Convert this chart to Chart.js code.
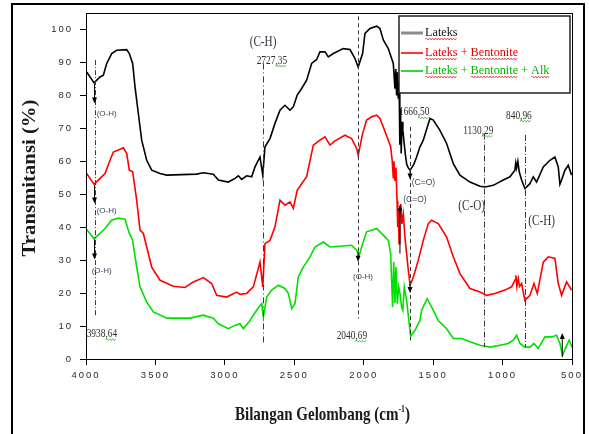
<!DOCTYPE html>
<html>
<head>
<meta charset="utf-8">
<script src="https://cdn.jsdelivr.net/npm/chart.js@4.4.0/dist/chart.umd.min.js"></script>
<style>
  html, body { margin: 0; background: #fff; }
  #wrap { position: relative; width: 589px; height: 434px; }
</style>
</head>
<body>
<div id="wrap"><canvas id="ftir" width="589" height="434"></canvas></div>
<script>
// FTIR spectra, wavenumber (cm-1) against transmittance (%)
const seriesNames = ['Lateks', 'Lateks + Bentonite', 'Lateks + Bentonite + Alk'];

const lateksX = [3995, 3942, 3899, 3875, 3851, 3815, 3779, 3707, 3688, 3664, 3647, 3623, 3599, 3563, 3527, 3467, 3419, 3203, 3155, 3083, 3047, 2975, 2927, 2903, 2879, 2843, 2807, 2783, 2747, 2727, 2711, 2675, 2639, 2603, 2567, 2531, 2507, 2479, 2447, 2411, 2375, 2339, 2315, 2279, 2255, 2219, 2147, 2099, 2063, 2040, 2008, 1991, 1955, 1907, 1883, 1859, 1823, 1787, 1775, 1769, 1763, 1757, 1751, 1745, 1740, 1735, 1730, 1724, 1718, 1710, 1700, 1690, 1679, 1666, 1640, 1619, 1595, 1571, 1523, 1499, 1451, 1403, 1355, 1307, 1235, 1163, 1127, 1067, 995, 947, 911, 905, 899, 890, 880, 863, 839, 803, 779, 755, 707, 659, 623, 599, 587, 575, 551, 527, 503];
const lateksY = [87.1, 83.8, 85.6, 86.1, 89.7, 92.7, 93.7, 93.9, 92.7, 89.7, 82.6, 74.5, 66.4, 60.3, 57.3, 56.3, 55.8, 56.1, 56.5, 56.1, 54.3, 53.7, 54.8, 55.6, 54.5, 55.6, 55.3, 58.3, 61.3, 55.8, 64.4, 66.9, 71.5, 75.5, 77.0, 75.5, 76.5, 80.1, 82.1, 84.6, 89.7, 90.9, 93.2, 93.2, 91.7, 92.7, 94.2, 93.9, 91.2, 88.6, 92.7, 98.8, 100.3, 101.0, 100.3, 96.8, 94.2, 89.7, 82, 88, 80, 87, 79, 84, 65, 76, 62.4, 72, 69.4, 66, 62, 59, 58, 57.3, 59, 61.3, 64.4, 66.4, 73.0, 72.5, 69.4, 65.4, 59.3, 55.8, 53.7, 52.4, 52.2, 52.7, 54.3, 55.3, 57.3, 59.5, 58, 60, 56.8, 54.3, 51.7, 53.2, 55.3, 53.7, 58.3, 60.3, 61.3, 58.3, 53, 54.3, 57.3, 58.8, 55.8];

const bentoniteX = [3995, 3942, 3899, 3863, 3827, 3803, 3767, 3731, 3707, 3688, 3664, 3635, 3611, 3587, 3563, 3527, 3467, 3371, 3287, 3227, 3155, 3095, 3059, 2987, 2915, 2891, 2843, 2795, 2747, 2727, 2711, 2675, 2639, 2603, 2567, 2531, 2507, 2479, 2447, 2411, 2363, 2315, 2279, 2243, 2207, 2135, 2087, 2051, 2040, 2008, 1979, 1943, 1907, 1883, 1859, 1823, 1806, 1795, 1787, 1782, 1775, 1768, 1760, 1755, 1750, 1745, 1740, 1733, 1725, 1715, 1703, 1691, 1679, 1666, 1650, 1631, 1607, 1571, 1535, 1511, 1463, 1403, 1355, 1307, 1235, 1163, 1115, 1055, 983, 935, 910, 904, 897, 887, 878, 863, 839, 803, 774, 750, 707, 671, 623, 599, 575, 539, 503];
const bentoniteY = [56.3, 53.0, 54.8, 56.3, 60.3, 62.8, 63.4, 64.1, 62.4, 57.3, 56.8, 48.2, 39.1, 38.1, 34.0, 27.9, 23.9, 22.1, 21.7, 23.4, 24.7, 22.9, 19.3, 18.8, 20.3, 19.6, 19.9, 21.9, 29.4, 21.9, 35.0, 36.0, 40.1, 48.2, 46.7, 47.7, 45.7, 51.2, 53.2, 55.3, 64.9, 66.4, 67.4, 64.9, 66.2, 67.9, 66.9, 63.9, 61.8, 68.4, 72.5, 73.5, 74.0, 73.0, 70.4, 66.4, 64.4, 60.3, 55, 60, 54, 58, 48, 40, 45, 35, 44, 47, 41, 44, 37, 32, 27, 22.5, 24, 26.5, 30.0, 36.0, 41.1, 42.1, 41.1, 37.0, 31.0, 25.9, 21.4, 20.3, 19.3, 19.9, 20.9, 21.9, 24, 25.4, 22, 24.4, 22, 22.9, 17.8, 19.3, 22.9, 19.9, 29.4, 31.0, 30.5, 22.9, 19.3, 23.4, 20.9];

const alkX = [3995, 3942, 3899, 3863, 3815, 3767, 3719, 3688, 3664, 3635, 3611, 3563, 3515, 3419, 3251, 3155, 3083, 3047, 2975, 2927, 2891, 2867, 2819, 2771, 2735, 2723, 2699, 2663, 2615, 2567, 2543, 2519, 2495, 2471, 2435, 2387, 2351, 2291, 2243, 2171, 2087, 2051, 2032, 2008, 1979, 1943, 1907, 1859, 1823, 1806, 1792, 1784, 1775, 1768, 1758, 1748, 1739, 1727, 1718, 1708, 1691, 1662, 1631, 1595, 1583, 1543, 1511, 1463, 1403, 1355, 1295, 1235, 1163, 1091, 1019, 959, 923, 899, 875, 839, 803, 774, 743, 695, 647, 611, 587, 568, 544, 520, 499];
const alkY = [39.3, 36.5, 38.1, 39.6, 42.1, 42.8, 42.4, 38.1, 36.0, 27.9, 21.9, 17.3, 14.3, 12.4, 12.4, 13.3, 12.4, 10.7, 9.2, 10.2, 10.7, 9.2, 11.7, 14.8, 16.8, 12.7, 18.8, 20.9, 22.4, 21.4, 19.9, 15.3, 16.8, 24.9, 27.9, 31.0, 34.0, 35.5, 34.0, 34.2, 34.5, 33.0, 31.5, 35.0, 38.6, 39.1, 39.6, 37.6, 36.0, 32.0, 15.8, 29.5, 17, 27.9, 16.8, 21.9, 19.9, 15.8, 14.8, 21.9, 17.8, 6.9, 8.7, 11.7, 14.8, 18.3, 15.8, 11.7, 9.2, 6.2, 6.2, 5.2, 4.2, 3.6, 4.2, 4.7, 5.7, 7.2, 4.7, 3.6, 3.6, 4.7, 3.2, 6.7, 6.7, 7.2, 4.7, 1.1, 3.6, 5.7, 3.6];

// marked peaks: wavenumber, printed label, top and bottom of the guide line (%)
const peakX = [3938.64, 2727.35, 2040.69, 1666.50, 1130.29, 840.96];
const peakLabels = ['3938,64', '2727,35', '2040,69', '1666,50', '1130,29', '840,96'];
const peakTop = [90.7, 89.7, 104, 70.4, 68.4, 68.0];
const peakBottom = [12.8, 4.1, 12.3, 5.6, 3.6, 3.6];

const lineColors = ['#000000', '#ff0000', '#00e000'];
const legendColors = ['#8c8c8c', '#ff0000', '#00d000'];
const textColors = ['#111111', '#e00000', '#00b400'];

function toPoints(xs, ys) {
  return xs.map((x, i) => ({ x, y: ys[i] }));
}

function dataset(i, xs, ys) {
  return {
    label: seriesNames[i],
    data: toPoints(xs, ys),
    borderColor: lineColors[i],
    borderWidth: 1.6,
    pointRadius: 0,
    tension: 0,
    fill: false
  };
}

function wavy(ctx, x1, x2, y, color) {
  ctx.save();
  ctx.strokeStyle = color;
  ctx.lineWidth = 0.8;
  ctx.setLineDash([]);
  ctx.beginPath();
  ctx.moveTo(x1, y);
  let up = true;
  for (let x = x1 + 1.5; x <= x2; x += 1.5) {
    ctx.lineTo(x, up ? y - 1 : y + 1);
    up = !up;
  }
  ctx.stroke();
  ctx.restore();
}

function squeezedText(ctx, text, x, y, font, color, sx, align) {
  ctx.save();
  ctx.font = font;
  ctx.fillStyle = color;
  ctx.textBaseline = 'middle';
  const w = ctx.measureText(text).width * sx;
  const left = align === 'center' ? x - w / 2 : x;
  ctx.translate(left, y);
  ctx.scale(sx, 1);
  ctx.textAlign = 'left';
  ctx.fillText(text, 0, 0);
  ctx.restore();
  return { left, width: w };
}

function peakLabel(ctx, text, x, y) {
  const font = '13px "Liberation Serif", "Times New Roman", serif';
  const box = squeezedText(ctx, text, x, y, font, '#2e2e2e', 0.72, 'left');
  ctx.save();
  ctx.font = font;
  const comma = text.indexOf(',');
  const pre = ctx.measureText(text.slice(0, comma)).width * 0.72;
  ctx.restore();
  wavy(ctx, box.left + pre, box.left + box.width, y + 6, '#3cb43c');
}

function smallLabel(ctx, text, x, y, size) {
  ctx.save();
  ctx.font = size + 'px "Liberation Sans", Arial, sans-serif';
  ctx.fillStyle = '#3b4756';
  ctx.textBaseline = 'middle';
  ctx.fillText(text, x, y);
  ctx.restore();
}

function arrow(ctx, x, yFrom, yTo) {
  const dir = yTo > yFrom ? 1 : -1;
  ctx.save();
  ctx.strokeStyle = '#000';
  ctx.fillStyle = '#000';
  ctx.lineWidth = 1;
  ctx.setLineDash([]);
  ctx.beginPath();
  ctx.moveTo(x, yFrom);
  ctx.lineTo(x, yTo - dir * 5);
  ctx.stroke();
  ctx.beginPath();
  ctx.moveTo(x - 2.5, yTo - dir * 6);
  ctx.lineTo(x + 2.5, yTo - dir * 6);
  ctx.lineTo(x, yTo);
  ctx.closePath();
  ctx.fill();
  ctx.restore();
}

const tickSpacing = {
  id: 'tickSpacing',
  beforeDraw(chart) { chart.ctx.letterSpacing = '2px'; },
  beforeDatasetsDraw(chart) { chart.ctx.letterSpacing = '0px'; }
};

const decorations = {
  id: 'decorations',
  afterDraw(chart) {
    const ctx = chart.ctx;
    const xs = chart.scales.x;
    const ys = chart.scales.y;
    const area = chart.chartArea;
    const px = v => xs.getPixelForValue(v);
    const py = v => ys.getPixelForValue(v);
    ctx.save();
    ctx.letterSpacing = '0px';

    // frames
    ctx.strokeStyle = '#000';
    ctx.lineWidth = 2;
    ctx.strokeRect(12, 4, 572, 440);
    ctx.lineWidth = 1;
    ctx.strokeRect(area.left + 0.5, area.top + 0.5, area.right - area.left, area.bottom - area.top);

    // peak guide lines
    const dashes = [[5, 2, 1, 2], [6, 3, 1, 3], [4, 3], [4, 3], [6, 2, 1, 2], [6, 2, 1, 2]];
    peakX.forEach((p, i) => {
      ctx.beginPath();
      ctx.setLineDash(dashes[i]);
      ctx.strokeStyle = '#3a3a3a';
      ctx.lineWidth = 1;
      ctx.moveTo(Math.round(px(p)) + 0.5, py(peakTop[i]));
      ctx.lineTo(Math.round(px(p)) + 0.5, py(peakBottom[i]));
      ctx.stroke();
    });
    ctx.setLineDash([]);

    // arrows from the absorption dips
    arrow(ctx, px(3938.64), py(83.5), py(77.5));
    arrow(ctx, px(3938.64), py(52.8), py(47.2));
    arrow(ctx, px(3938.64), py(36.3), py(30.2));
    arrow(ctx, px(2040.69), py(32.5), py(29.5));
    arrow(ctx, px(1666.50), py(57.0), py(54.5));
    arrow(ctx, px(1739), py(32.0), py(46.8));
    arrow(ctx, px(1666.50), py(22.8), py(20.0));
    arrow(ctx, px(570), py(0.6), py(7.9));

    // peak labels
    peakLabel(ctx, peakLabels[0], px(3995), py(7.7));
    peakLabel(ctx, peakLabels[1], px(2771), py(90.7));
    peakLabel(ctx, peakLabels[2], px(2195), py(7.2));
    peakLabel(ctx, peakLabels[3], px(1746), py(75.0));
    peakLabel(ctx, peakLabels[4], px(1283), py(69.4));
    peakLabel(ctx, peakLabels[5], px(975), py(74.0));

    const groupFont = '14px "Liberation Serif", "Times New Roman", serif';
    squeezedText(ctx, '(C-H)', px(2725), py(96.2), groupFont, '#2e3440', 0.8, 'center');
    squeezedText(ctx, '(C-O)', px(1319), py(46.4), groupFont, '#2e3440', 0.8, 'left');
    squeezedText(ctx, '(C-H)', px(815), py(41.9), groupFont, '#2e3440', 0.8, 'left');

    smallLabel(ctx, '(O-H)', px(3923), py(74.5), 8);
    smallLabel(ctx, '(O-H)', px(3923), py(44.9), 8);
    smallLabel(ctx, '(O-H)', px(3959), py(26.9), 8);
    smallLabel(ctx, '(O-H)', px(2077), py(24.9), 8);
    smallLabel(ctx, '(C=O)', px(1654), py(53.4), 8.5);
    smallLabel(ctx, '(C=O)', px(1715), py(48.5), 8.5);

    // legend
    ctx.fillStyle = '#fff';
    ctx.fillRect(399, 16, 171, 77);
    ctx.strokeStyle = '#222';
    ctx.lineWidth = 1.5;
    ctx.strokeRect(399, 16, 171, 77);
    const legendY = [33, 53, 71];
    const legendFont = '13px "Liberation Serif", "Times New Roman", serif';
    seriesNames.forEach((name, i) => {
      ctx.beginPath();
      ctx.strokeStyle = legendColors[i];
      ctx.lineWidth = i === 0 ? 3 : 1.6;
      ctx.moveTo(401, legendY[i]);
      ctx.lineTo(423, legendY[i]);
      ctx.stroke();
      const box = squeezedText(ctx, name, 425, legendY[i], legendFont, textColors[i], 0.94, 'left');
      ctx.font = legendFont;
      let cursor = box.left;
      name.split(' ').forEach(word => {
        const w = ctx.measureText(word).width * 0.94;
        if (word !== '+') wavy(ctx, cursor, cursor + w, legendY[i] + 6, '#e83030');
        cursor += w + ctx.measureText(' ').width * 0.94;
      });
    });

    // axis titles
    const titleFont = 'bold 19px "Liberation Serif", "Times New Roman", serif';
    ctx.font = titleFont;
    const yTitle = 'Transmitansi (%)';
    const yw = ctx.measureText(yTitle).width;
    ctx.save();
    ctx.translate(30, 178);
    ctx.rotate(-Math.PI / 2);
    ctx.scale(157 / yw, 1);
    ctx.fillStyle = '#1a1a1a';
    ctx.textAlign = 'center';
    ctx.textBaseline = 'middle';
    ctx.fillText(yTitle, 0, 0);
    ctx.restore();

    const xMain = 'Bilangan Gelombang (cm';
    const supFont = 'bold 10px "Liberation Serif", "Times New Roman", serif';
    ctx.font = titleFont;
    const mw = ctx.measureText(xMain).width;
    const cw = ctx.measureText(')').width;
    ctx.font = supFont;
    const sw = ctx.measureText('-1').width;
    const total = mw + sw + cw;
    const sx = 175 / total;
    ctx.save();
    ctx.translate(235, 420);
    ctx.scale(sx, 1);
    ctx.fillStyle = '#1a1a1a';
    ctx.textAlign = 'left';
    ctx.textBaseline = 'alphabetic';
    ctx.font = titleFont;
    ctx.fillText(xMain, 0, 0);
    ctx.font = supFont;
    ctx.fillText('-1', mw, -8);
    ctx.font = titleFont;
    ctx.fillText(')', mw + sw, 0);
    ctx.restore();

    ctx.restore();
  }
};

new Chart(document.getElementById('ftir'), {
  type: 'line',
  data: {
    datasets: [
      dataset(0, lateksX, lateksY),
      dataset(1, bentoniteX, bentoniteY),
      dataset(2, alkX, alkY)
    ]
  },
  options: {
    responsive: false,
    animation: false,
    layout: { padding: { top: 13, right: 17, left: 0, bottom: 0 } },
    plugins: { legend: { display: false }, tooltip: { enabled: false } },
    scales: {
      x: {
        type: 'linear',
        reverse: true,
        min: 500,
        max: 4000,
        ticks: { stepSize: 500, callback: v => String(v), color: '#2a2a2a', padding: 5, maxRotation: 0, font: { family: '"Liberation Sans", Arial, sans-serif', size: 9.5 } },
        grid: { drawOnChartArea: false, drawTicks: true, tickLength: 6, color: '#000' },
        border: { display: true, color: '#000' },
        afterFit: scale => { scale.height = 75; }
      },
      y: {
        min: 0,
        max: 105,
        ticks: { stepSize: 10, includeBounds: false, callback: v => String(v), color: '#2a2a2a', padding: 7, font: { family: '"Liberation Sans", Arial, sans-serif', size: 9.5 } },
        grid: { drawOnChartArea: false, drawTicks: true, tickLength: 6, color: '#000' },
        border: { display: true, color: '#000' },
        afterFit: scale => { scale.width = 86; }
      }
    }
  },
  plugins: [tickSpacing, decorations]
});
</script>
</body>
</html>
